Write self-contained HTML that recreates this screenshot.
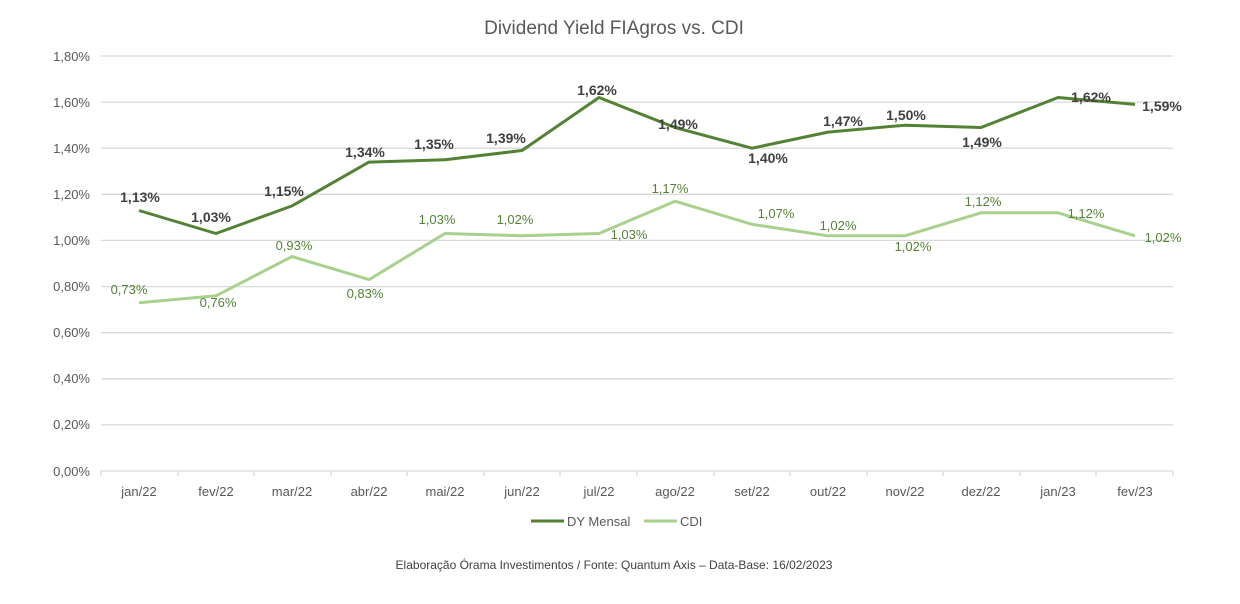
<!DOCTYPE html>
<html><head><meta charset="utf-8"><style>body{margin:0;background:#fff}svg{display:block}text{font-family:"Liberation Sans",sans-serif}</style></head><body>
<svg width="1240" height="604" xmlns="http://www.w3.org/2000/svg">
<text x="614" y="34" font-size="19" fill="#595959" text-anchor="middle">Dividend Yield FIAgros vs. CDI</text>
<g stroke="#d9d9d9" stroke-width="1.3">
<line x1="101" x2="1173" y1="56" y2="56"/><line x1="101" x2="1173" y1="102.1" y2="102.1"/><line x1="101" x2="1173" y1="148.2" y2="148.2"/><line x1="101" x2="1173" y1="194.3" y2="194.3"/><line x1="101" x2="1173" y1="240.4" y2="240.4"/><line x1="101" x2="1173" y1="286.6" y2="286.6"/><line x1="101" x2="1173" y1="332.7" y2="332.7"/><line x1="101" x2="1173" y1="378.8" y2="378.8"/><line x1="101" x2="1173" y1="424.9" y2="424.9"/><line x1="101" x2="1173" y1="471" y2="471"/>
</g>
<g stroke="#d9d9d9" stroke-width="1.3" id="ticks"></g>
<g font-size="13" fill="#595959" text-anchor="end">
<text x="90" y="61">1,80%</text><text x="90" y="107">1,60%</text><text x="90" y="153">1,40%</text><text x="90" y="199">1,20%</text><text x="90" y="245">1,00%</text><text x="90" y="291">0,80%</text><text x="90" y="337">0,60%</text><text x="90" y="383">0,40%</text><text x="90" y="429">0,20%</text><text x="90" y="476">0,00%</text>
</g>
<g font-size="13" fill="#595959" text-anchor="middle">
<text x="139" y="496">jan/22</text><text x="216" y="496">fev/22</text><text x="292" y="496">mar/22</text><text x="369" y="496">abr/22</text><text x="445" y="496">mai/22</text><text x="522" y="496">jun/22</text><text x="599" y="496">jul/22</text><text x="675" y="496">ago/22</text><text x="752" y="496">set/22</text><text x="828" y="496">out/22</text><text x="905" y="496">nov/22</text><text x="981" y="496">dez/22</text><text x="1058" y="496">jan/23</text><text x="1135" y="496">fev/23</text>
</g>
<g stroke="#d9d9d9" stroke-width="1.3">
<line x1="101" x2="101" y1="471" y2="476"/><line x1="178" x2="178" y1="471" y2="476"/><line x1="254" x2="254" y1="471" y2="476"/><line x1="331" x2="331" y1="471" y2="476"/><line x1="407" x2="407" y1="471" y2="476"/><line x1="484" x2="484" y1="471" y2="476"/><line x1="560" x2="560" y1="471" y2="476"/><line x1="637" x2="637" y1="471" y2="476"/><line x1="714" x2="714" y1="471" y2="476"/><line x1="790" x2="790" y1="471" y2="476"/><line x1="867" x2="867" y1="471" y2="476"/><line x1="943" x2="943" y1="471" y2="476"/><line x1="1020" x2="1020" y1="471" y2="476"/><line x1="1096" x2="1096" y1="471" y2="476"/><line x1="1173" x2="1173" y1="471" y2="476"/>
</g>
<polyline fill="none" stroke="#a9d18e" stroke-width="3" stroke-linejoin="round" points="139,302.7 216,295.8 292,256.6 369,279.6 445,233.5 522,235.8 599,233.5 675,201.2 752,224.3 828,235.8 905,235.8 981,212.8 1058,212.8 1135,235.8"/>
<polyline fill="none" stroke="#548235" stroke-width="3" stroke-linejoin="round" points="139,210.5 216,233.5 292,205.9 369,162.1 445,159.8 522,150.5 599,97.5 675,127.5 752,148.2 828,132.1 905,125.2 981,127.5 1058,97.5 1135,104.4"/>
<g font-size="14" font-weight="bold" fill="#404040" text-anchor="middle">
<text x="140" y="202">1,13%</text><text x="211" y="222">1,03%</text><text x="284" y="196">1,15%</text><text x="365" y="157">1,34%</text><text x="434" y="149">1,35%</text><text x="506" y="143">1,39%</text><text x="597" y="95">1,62%</text><text x="678" y="129">1,49%</text><text x="768" y="163">1,40%</text><text x="843" y="126">1,47%</text><text x="906" y="120">1,50%</text><text x="982" y="147">1,49%</text><text x="1091" y="102">1,62%</text><text x="1162" y="111">1,59%</text>
</g>
<g font-size="13" fill="#548235" text-anchor="middle">
<text x="129" y="294">0,73%</text><text x="218" y="307">0,76%</text><text x="294" y="250">0,93%</text><text x="365" y="298">0,83%</text><text x="437" y="224">1,03%</text><text x="515" y="224">1,02%</text><text x="629" y="239">1,03%</text><text x="670" y="193">1,17%</text><text x="776" y="218">1,07%</text><text x="838" y="230">1,02%</text><text x="913" y="251">1,02%</text><text x="983" y="206">1,12%</text><text x="1086" y="218">1,12%</text><text x="1163" y="242">1,02%</text>
</g>
<line x1="531" x2="564" y1="521" y2="521" stroke="#548235" stroke-width="3"/>
<text x="567" y="526" font-size="13" fill="#595959">DY Mensal</text>
<line x1="644" x2="677" y1="521" y2="521" stroke="#a9d18e" stroke-width="3"/>
<text x="680" y="526" font-size="13" fill="#595959">CDI</text>
<text x="614" y="569" font-size="12" fill="#404040" text-anchor="middle">Elaboração Órama Investimentos / Fonte: Quantum Axis – Data-Base: 16/02/2023</text>
</svg>
</body></html>
